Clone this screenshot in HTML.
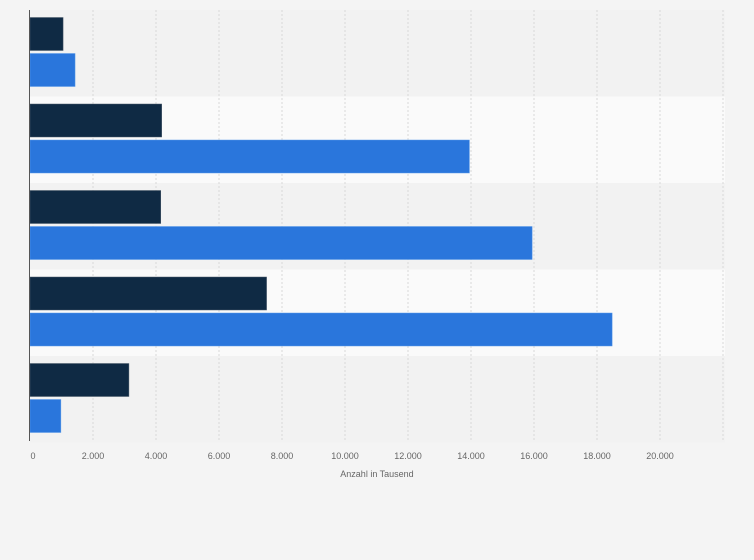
<!DOCTYPE html>
<html><head><meta charset="utf-8"><style>
body{margin:0;background:#f4f4f4;}
svg{display:block;font-family:"Liberation Sans",sans-serif;}
</style></head><body>
<svg id="chart" width="754" height="560"></svg>
<script>
const categories = ["A","B","C","D","E"];
const seriesDark = [1050, 4180, 4150, 7510, 3140];
const seriesBlue = [1430, 13950, 15940, 18480, 980];
const tickValues = [0,2000,4000,6000,8000,10000,12000,14000,16000,18000,20000];
const tickLabels = ["0","2.000","4.000","6.000","8.000","10.000","12.000","14.000","16.000","18.000","20.000"];

const NS="http://www.w3.org/2000/svg";
const svgEl=document.getElementById('chart');
const x0=30, pxPer=63/2000, plotTop=10, rowH=86.5;
const xs=v=>x0+v*pxPer;
function mk(t,a){const e=document.createElementNS(NS,t);for(const k in a)e.setAttribute(k,a[k]);svgEl.appendChild(e);return e;}

categories.forEach((c,i)=>{
  const r=mk('rect',{x:x0,y:plotTop+i*rowH,width:695,height:rowH,fill:i%2?'#fafafa':'#f2f2f2'});
  
  
});
tickValues.forEach((v,i)=>{
  if(v>0){const l=mk('line',{x1:xs(v),x2:xs(v),y1:plotTop,y2:441,stroke:'#d8d8d8','stroke-dasharray':'2,2'});
  
  }
  const t=mk('text',{x:xs(v)+(v?0:3),y:459,'text-anchor':'middle','font-size':'9',fill:'#666'});
  t.textContent=tickLabels[i];
  
  
});
{const l=mk('line',{x1:xs(22000),x2:xs(22000),y1:plotTop,y2:441,stroke:'#d8d8d8','stroke-dasharray':'2,2'});

}
categories.forEach((c,i)=>{
  const y=plotTop+i*rowH;
  const d=mk('rect',{x:x0,y:y+7.5,width:xs(seriesDark[i])-x0,height:33,fill:'#0f2a44',stroke:'#4a5a6a','stroke-width':'0.5'});
  
  
  const b=mk('rect',{x:x0,y:y+43.5,width:xs(seriesBlue[i])-x0,height:33,fill:'#2a76dc',stroke:'#5a9ae8','stroke-width':'0.5'});
  
  
});
const ax=mk('line',{x1:29.5,x2:29.5,y1:plotTop,y2:441,stroke:'#555','stroke-width':'1'});


const at=mk('text',{x:377,y:477,'text-anchor':'middle','font-size':'9',fill:'#666'});
at.textContent='Anzahl in Tausend';


</script>
</body></html>
